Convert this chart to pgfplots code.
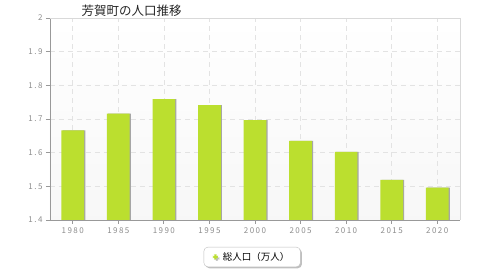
\documentclass[border=0pt]{standalone}
\usepackage{pgfplots}
\pgfplotsset{compat=1.18}
\usepackage{fontspec}
\setmainfont{Noto Sans CJK JP}
\newfontfamily\tickfont[LetterSpace=18]{Noto Sans CJK JP}
\usetikzlibrary{shadows}
\definecolor{bargreen}{HTML}{BBDF2F}
\definecolor{axisgrey}{HTML}{999999}
\definecolor{gridgrey}{HTML}{E3E3E3}
\definecolor{ticktext}{HTML}{8C8C8C}
\begin{document}
\begin{tikzpicture}
\path[use as bounding box] (0pt,0pt) rectangle (480pt,280pt);
\node[anchor=west, font=\fontsize{12.5}{14}\selectfont, text=black!85] at (78pt,269pt) {芳賀町の人口推移};
\begin{axis}[
  at={(50pt,60pt)}, anchor=south west,
  scale only axis, width=410pt, height=202pt,
  xmin=-0.5, xmax=8.5, ymin=1.4, ymax=2,
  xtick={0,...,8},
  xticklabels={1980,1985,1990,1995,2000,2005,2010,2015,2020},
  ytick={1.4,1.5,1.6,1.7,1.8,1.9,2},
  yticklabel style={/pgf/number format/.cd, fixed, fixed zerofill=false, precision=1},
  /pgf/number format/assume math mode=true,
  tick label style={font=\tickfont\fontsize{8}{9}\selectfont, text=ticktext},
  major tick length=4pt,
  tick style={axisgrey, line width=0.8pt},
  xtick pos=bottom, ytick pos=left,
  tick align=outside,
  grid=major,
  major grid style={gridgrey, dashed, dash pattern=on 5pt off 4pt, line width=0.7pt},
  axis line style={draw=none},
  axis background/.style={top color=white, bottom color=black!3},
  legend style={at={(0.493,-0.183)}, anchor=center, draw=black!25, rounded corners=4pt,
    drop shadow={shadow xshift=1.5pt, shadow yshift=-1.5pt, fill=black!50},
    fill=white, font=\fontsize{9.5}{11}\selectfont, inner xsep=9pt, inner ysep=3pt},
  legend image code/.code={\fill[bargreen] (0pt,-2.5pt) rectangle (5pt,2.5pt); \path (8pt,0pt);},
  clip=false,
]
\addplot[ybar, bar width=22.7pt, bar shift=1.2pt, fill=black!35, draw=none, forget plot]
  coordinates {(0,1.666)(1,1.716)(2,1.759)(3,1.741)(4,1.697)(5,1.635)(6,1.602)(7,1.519)(8,1.496)};
\addplot[ybar, bar width=22.7pt, fill=bargreen, draw=none]
  coordinates {(0,1.666)(1,1.716)(2,1.759)(3,1.741)(4,1.697)(5,1.635)(6,1.602)(7,1.519)(8,1.496)};
\addlegendentry{総人口（万人）}
\draw[axisgrey, line width=0.9pt] (rel axis cs:0,1) -- (rel axis cs:0,0) -- (rel axis cs:1,0);
\draw[black!15, line width=0.6pt] (rel axis cs:0,1) -- (rel axis cs:1,1) -- (rel axis cs:1,0);
\end{axis}
\end{tikzpicture}
\end{document}
